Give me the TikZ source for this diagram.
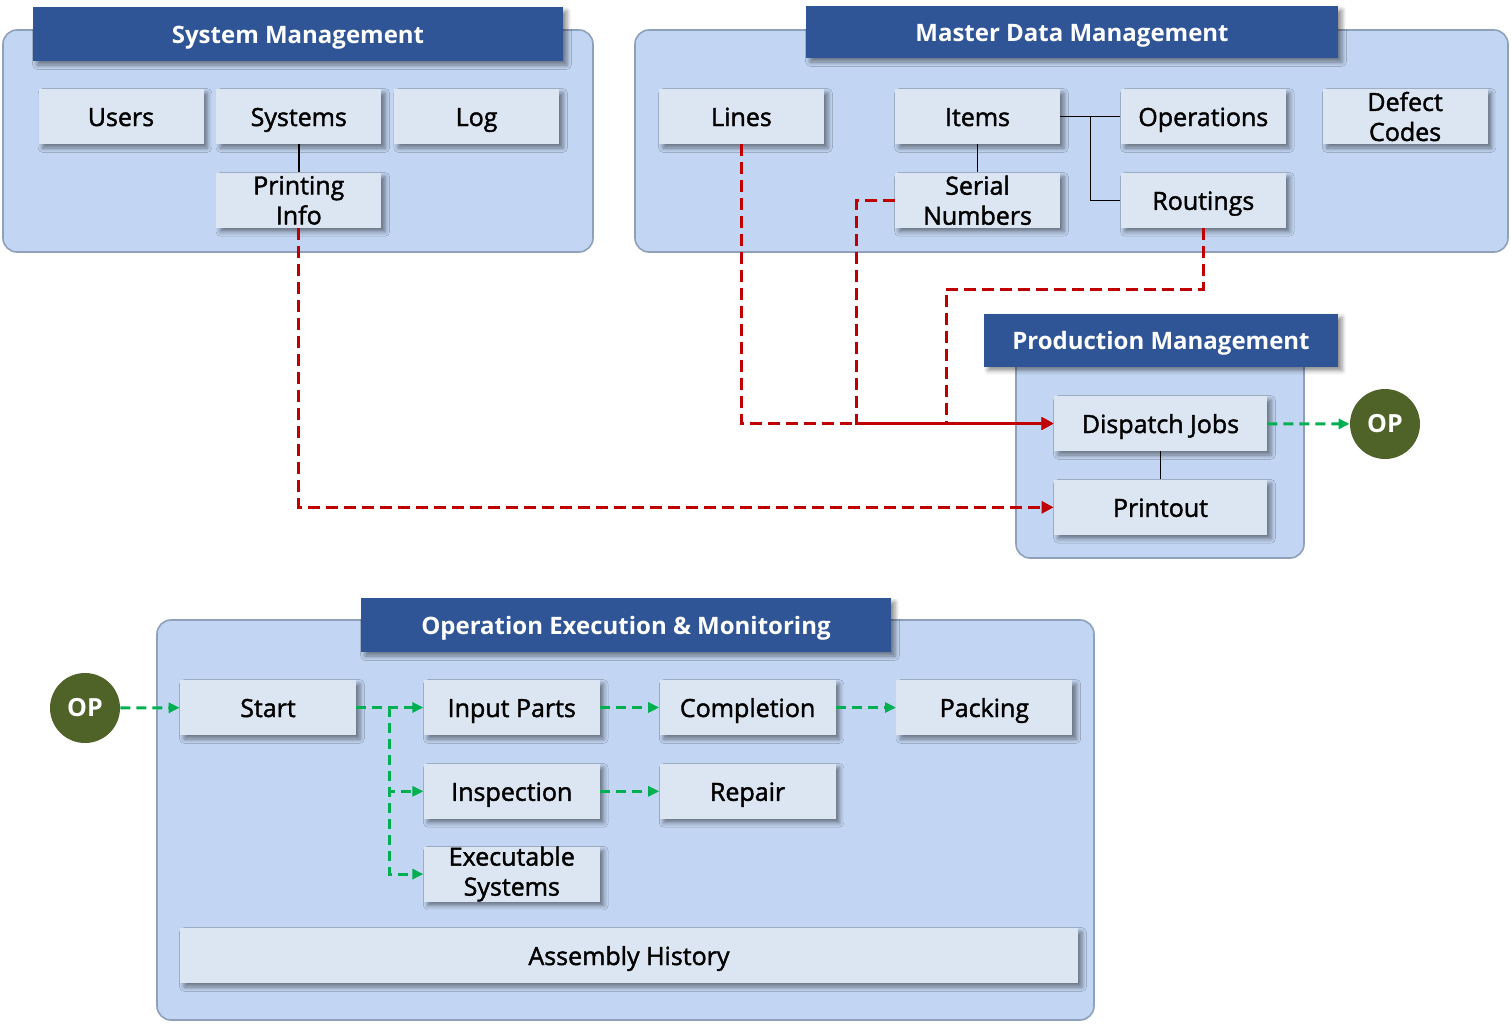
\documentclass[tikz,border=0pt]{standalone}
\usepackage{fontspec}
\setmainfont{Open Sans}
\newfontfamily\boxfont[FakeBold=1.6]{Open Sans}
\usetikzlibrary{positioning,shadows.blur,arrows.meta}
\definecolor{panelblue}{HTML}{C2D5F2}
\definecolor{panelline}{HTML}{8EA0BA}
\definecolor{headblue}{HTML}{2F5597}
\definecolor{itemblue}{HTML}{DCE6F2}
\definecolor{flowred}{HTML}{C00000}
\definecolor{flowgreen}{HTML}{00B050}
\definecolor{opgreen}{HTML}{4F6228}
\begin{document}
\begin{tikzpicture}[x=0.5pt, y=-0.5pt,
  panel/.style = {fill=panelblue, draw=panelline, line width=0.8pt, rounded corners=7pt},
  head/.style = {fill=headblue, text=white, font=\fontsize{12}{15}\selectfont\bfseries,
    minimum height=27pt, inner sep=0pt, text height=9pt, text depth=0pt,
    blur shadow={shadow xshift=2pt, shadow yshift=-2pt, shadow blur steps=4, shadow opacity=45}},
  box/.style = {fill=itemblue, minimum width=82.5pt, minimum height=27.5pt, inner sep=0pt,
    align=center, font=\boxfont\fontsize{12.5}{15}\selectfont,
    blur shadow={shadow xshift=2pt, shadow yshift=-2pt, shadow blur steps=4, shadow opacity=45}},
  item/.style = {box, text height=9.5pt, text depth=0pt},
  op/.style = {circle, fill=opgreen, text=white, minimum size=35pt, inner sep=0pt,
    font=\fontsize{12.5}{15}\selectfont\bfseries},
  link/.style = {line width=0.8pt},
  redflow/.style = {draw=flowred, line width=1.5pt, dash pattern=on 6pt off 3pt,
    -{Triangle[length=6pt, width=6pt]}},
  greenflow/.style = {draw=flowgreen, line width=1.5pt, dash pattern=on 5pt off 3pt,
    -{Triangle[length=5.5pt, width=5pt]}},
  node distance=6pt]
\useasboundingbox (0,0) rectangle (1511,1024);

% panels
\path[panel] (3,30) rectangle (593,252);
\path[panel] (635,30) rectangle (1508,252);
\path[panel] (1016,340) rectangle (1304,558);
\path[panel] (157,620) rectangle (1094,1020);

% headers
\node[head, minimum width=265pt] (sysh) at (298,34) {System Management};
\node[head, minimum width=266pt, minimum height=26pt] (mdmh) at (1072,32) {Master Data Management};
\node[head, minimum width=177pt, minimum height=26.5pt] (pmh) at (1161,340) {Production Management};
\node[head, minimum width=265pt] (oemh) at (626,625) {Operation Execution \& Monitoring};

% system management
\node[item] (users) at (121,116.5) {Users};
\node[item] (systems) [right=of users] {Systems};
\node[item] (log) [right=of systems] {Log};
\node[box] (info) [below=14pt of systems] {Printing\\Info};

% master data management
\node[item] (lines) at (741.5,116.5) {Lines};
\node[item] (items) at (977.5,116.5) {Items};
\node[item] (ops) [right=30pt of items] {Operations};
\node[box] (defect) [right=18pt of ops] {Defect\\Codes};
\node[box] (serial) [below=14pt of items] {Serial\\Numbers};
\node[item] (routings) [below=14pt of ops] {Routings};

% production management
\node[item, minimum width=106.5pt] (dispatch) at (1160.5,423.5) {Dispatch Jobs};
\node[item, minimum width=106.5pt] (printout) [below=14pt of dispatch] {Printout};
\node[op] (opR) at (1385,424) {OP};

% operation execution
\node[op] (opL) at (85,708) {OP};
\node[item, minimum width=88pt] (start) at (268,707.5) {Start};
\node[item, minimum width=88pt] (input) [right=33.5pt of start] {Input Parts};
\node[item, minimum width=88pt] (compl) [right=29.5pt of input] {Completion};
\node[item, minimum width=88pt] (packing) [right=30pt of compl] {Packing};
\node[item, minimum width=88pt] (insp) [below=14pt of input] {Inspection};
\node[item, minimum width=88pt] (repair) [below=14pt of compl] {Repair};
\node[box, minimum width=88pt] (exec) [below=13.5pt of insp] {Executable\\Systems};
\node[item, minimum width=449pt] (history) at (629,955.5) {Assembly History};

% solid links
\draw[link] (systems) -- (info);
\draw[link] (items) -- (serial);
\draw[link] (items.east) -- (ops.west);
\draw[link] (items.east) -- ++(30,0) |- (routings.west);
\draw[link] (dispatch) -- (printout);

% red flows
\draw[redflow] (info.south) |- (printout.west);
\draw[redflow] (lines.south) |- (dispatch.west);
\draw[redflow] (serial.west) -- ++(-38,0) |- (dispatch.west);
\draw[redflow] (routings.south) |- ++(-257,61) |- (dispatch.west);

% green flows
\draw[greenflow] (dispatch) -- (opR);
\draw[greenflow] (opL) -- (start);
\draw[greenflow] (start) -- (input);
\draw[greenflow] (start.east) -- ++(33,0) |- (insp.west);
\draw[greenflow] (start.east) -- ++(33,0) |- (exec.west);
\draw[greenflow] (input) -- (compl);
\draw[greenflow] (compl) -- (packing);
\draw[greenflow] (insp) -- (repair);
\end{tikzpicture}
\end{document}
